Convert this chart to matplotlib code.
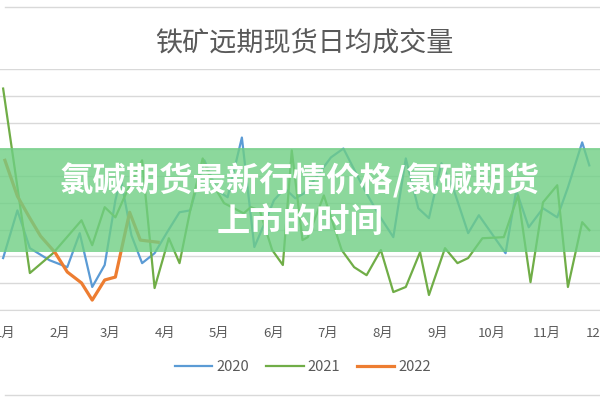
import matplotlib
matplotlib.use("Agg")
import matplotlib.pyplot as plt
from matplotlib.lines import Line2D
from matplotlib.patches import Rectangle

plt.rcParams['font.family'] = ['Noto Sans CJK SC', 'DejaVu Sans']

# ----------------------------
# Data (day of year, daily avg volume)
# ----------------------------
TITLE = "铁矿远期现货日均成交量"
BANNER = "氯碱期货最新行情价格/氯碱期货\n上市的时间"

month_days = [0, 31, 59, 90, 120, 151, 181, 212, 243, 273, 304, 334]
month_labels = ["1月", "2月", "3月", "4月", "5月", "6月",
                "7月", "8月", "9月", "10月", "11月", "12月"]

days_2020 = [-1, 7, 14, 25, 35, 42, 49, 56, 62, 65, 71, 77, 84, 91, 98, 104,
             112, 119, 125, 133, 140, 146, 151, 157, 163, 168, 183, 190, 202,
             210, 218, 225, 232, 238, 245, 252, 260, 266, 281, 287, 294, 302,
             310, 316, 324, 328]
vals_2020 = [194, 372, 231, 186, 160, 287, 86, 168, 410, 492, 279, 175, 212,
             290, 365, 372, 559, 447, 421, 644, 235, 328, 410, 454, 417, 436,
             570, 603, 447, 354, 272, 566, 380, 343, 548, 447, 287, 354, 212,
             447, 309, 380, 346, 458, 626, 540]

days_2021 = [-1, 14, 27, 43, 49, 56, 62, 68, 77, 84, 92, 98, 104, 111, 117,
             123, 134, 138, 143, 150, 156, 161, 167, 170, 179, 189, 196, 203,
             211, 218, 225, 233, 238, 247, 254, 260, 268, 280, 288, 295, 302,
             310, 316, 324, 328]
vals_2021 = [827, 138, 212, 335, 242, 384, 346, 436, 559, 82, 268, 175, 372,
             566, 466, 399, 361, 384, 372, 224, 168, 596, 261, 272, 428, 224,
             160, 130, 224, 67, 86, 216, 56, 231, 175, 194, 268, 272, 428,
             104, 402, 466, 86, 328, 298]

days_2022 = [0, 7, 14, 20, 28, 35, 43, 49, 56, 62, 70, 76, 86]
vals_2022 = [559, 425, 343, 276, 216, 142, 101, 37, 112, 123, 365, 261, 253]

COLORS = {"2020": "#5b9bd5", "2021": "#70ad47", "2022": "#ed7d31"}
TEXT_GRAY = "#595959"
GRID_GRAY = "#d9d9d9"


def main():
    fig = plt.figure(figsize=(6, 4), dpi=100)
    fig.patch.set_facecolor("white")

    ax = fig.add_axes([0, 0.225, 1, 0.6025])
    ax.plot(days_2020, vals_2020, color=COLORS["2020"], lw=1.6, label="2020")
    ax.plot(days_2021, vals_2021, color=COLORS["2021"], lw=1.6, label="2021")
    ax.plot(days_2022, vals_2022, color=COLORS["2022"], lw=2.3, label="2022")

    ax.set_xlim(-2.76, 328.3)
    ax.set_ylim(0, 900)
    ax.set_yticks(range(0, 901, 100))
    ax.yaxis.grid(True, color=GRID_GRAY, lw=1)
    ax.set_axisbelow(True)
    ax.tick_params(axis="y", length=0, labelleft=False)
    ax.set_xticks(month_days)
    ax.set_xticklabels(month_labels, fontsize=9.5, color=TEXT_GRAY)
    ax.tick_params(axis="x", length=0, pad=12)
    for s in ("left", "right", "top"):
        ax.spines[s].set_visible(False)
    ax.spines["bottom"].set_color(GRID_GRAY)

    # chart title
    fig.text(0.507, 0.8925, TITLE, ha="center", va="center",
             fontsize=19.5, color=TEXT_GRAY, weight="light")

    # chart-area border lines
    fig.add_artist(Line2D([0.008, 1], [0.9825, 0.9825],
                          transform=fig.transFigure, color=GRID_GRAY, lw=1))
    fig.add_artist(Line2D([0.008, 1], [0.0125, 0.0125],
                          transform=fig.transFigure, color=GRID_GRAY, lw=1))

    # legend
    handles = [Line2D([], [], color=COLORS[k], lw=2.3 if k == "2022" else 1.6)
               for k in ("2020", "2021", "2022")]
    fig.legend(handles, ["2020", "2021", "2022"], loc="center",
               bbox_to_anchor=(0.505, 0.083), ncol=3, frameon=False,
               fontsize=10.5, labelcolor=TEXT_GRAY, handlelength=2.6,
               handletextpad=0.3, columnspacing=1.1)

    # green banner overlay
    fig.add_artist(Rectangle((0, 0.37), 1, 0.26, transform=fig.transFigure,
                             facecolor="#6fcf84", alpha=0.8, lw=0, zorder=10))
    fig.text(0.5, 0.4975, BANNER, ha="center", va="center", fontsize=24,
             color="white", weight="bold", linespacing=1.26, zorder=11)

    fig.savefig("out.png", dpi=100)


if __name__ == "__main__":
    main()
